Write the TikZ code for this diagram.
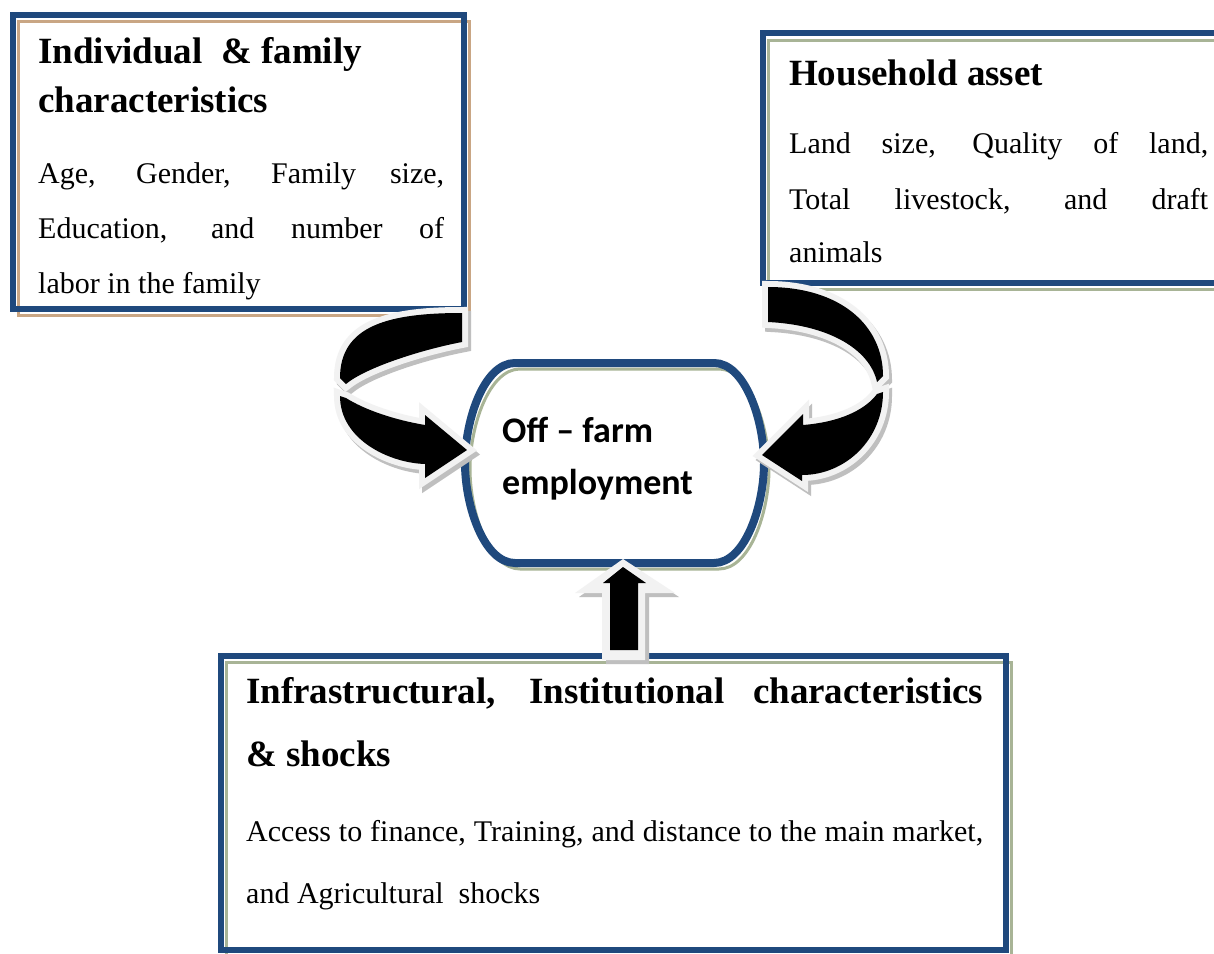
\documentclass[tikz,border=0pt]{standalone}
\usepackage{fontspec}
\setmainfont{Liberation Serif}
\newfontfamily\calibrifont{Carlito}
\definecolor{wordblue}{HTML}{1F497D}
\definecolor{tanline}{RGB}{201,166,132}
\definecolor{sageline}{RGB}{168,180,150}
\definecolor{arrowwhite}{HTML}{F2F2F2}
\definecolor{arrowshadow}{HTML}{BFBFBF}
\tikzset{
  headtxt/.style={font=\fontsize{37}{37}\selectfont\bfseries, anchor=base west, inner sep=0pt},
  bodytxt/.style={font=\fontsize{30}{30}\selectfont, anchor=base west, inner sep=0pt},
  ctrtxt/.style={font=\calibrifont\bfseries\fontsize{36}{36}\selectfont, anchor=base west, inner sep=0pt},
  blueframe/.style={draw=wordblue, line width=6pt},
  tanframe/.style={draw=tanline, line width=3pt},
  sageframe/.style={draw=sageline, line width=3pt},
  arrowshade/.style={draw=arrowshadow, fill=arrowshadow, line width=12pt, line join=miter, miter limit=10},
  arrowedge/.style={draw=arrowwhite, fill=arrowwhite, line width=12pt, line join=miter, miter limit=10},
}
\newcommand\drawband[1]{%
  \path[arrowshade, shift={(3,4)}] #1;
  \path[arrowedge] #1;
  \fill[black] #1;}
\begin{document}
\begin{tikzpicture}[x=1pt,y=-1pt]
\useasboundingbox[fill=white] (0,0) rectangle (1214,953);

% ---- Box 1
\fill[white] (13,15) rectangle (464,309);
\draw[tanframe] (18,21) rectangle (469,315);
\draw[blueframe] (13,15) rectangle (464,309);

% ---- Box 2
\fill[white] (763,33) rectangle (1230,283);
\draw[sageframe] (768,40) rectangle (1235,289);
\draw[blueframe] (763,33) rectangle (1230,283);

% ---- Box 3
\fill[white] (221,656) rectangle (1006,950);
\draw[sageframe] (226,662) rectangle (1011,956);
\draw[blueframe] (221,656) rectangle (1006,950);

% ---- Centre shape
\fill[white] (515,363) -- (714,363) .. controls (745,363) and (764,420) .. (764,463)
  .. controls (764,506) and (745,563) .. (714,563) -- (515,563)
  .. controls (484,563) and (465,506) .. (465,463)
  .. controls (465,420) and (484,363) .. (515,363) -- cycle;
\draw[sageframe] (520,369) -- (719,369) .. controls (750,369) and (769,426) .. (769,469)
  .. controls (769,512) and (750,569) .. (719,569) -- (520,569)
  .. controls (489,569) and (470,512) .. (470,469)
  .. controls (470,426) and (489,369) .. (520,369) -- cycle;
\draw[draw=wordblue, line width=8pt] (515,363) -- (714,363) .. controls (745,363) and (764,420) .. (764,463)
  .. controls (764,506) and (745,563) .. (714,563) -- (515,563)
  .. controls (484,563) and (465,506) .. (465,463)
  .. controls (465,420) and (484,363) .. (515,363) -- cycle;

% ---- Left curved arrow (back band, then front band with head)
\drawband{(462,313) .. controls (390,313) and (340,325) .. (340,378) -- (346,384)
  .. controls (365,368) and (420,350) .. (462,342) -- cycle}
\drawband{(340,396) .. controls (340,440) and (390,463) .. (425,464) -- (425,478) -- (467,450)
  -- (425,415) -- (425,425) .. controls (395,420) and (365,410) .. (346,398) -- cycle}

% ---- Right curved arrow
\drawband{(768,287) .. controls (840,287) and (883,325) .. (883,376) -- (877,382)
  .. controls (870,350) and (830,325) .. (768,322) -- cycle}
\drawband{(883,392) .. controls (883,440) and (845,475) .. (802,475) -- (802,481) -- (762,455)
  -- (803,414) -- (803,425) .. controls (840,422) and (865,410) .. (877,394) -- cycle}

% ---- Bottom up arrow
\fill[arrowshadow] (606,664) -- (606,597) -- (579,597) -- (627,563) -- (679,597) -- (649,597) -- (649,664) -- cycle;
\fill[arrowwhite] (602,660) -- (602,593) -- (575,593) -- (623,559) -- (675,593) -- (645,593) -- (645,660) -- cycle;
\fill[black] (610,650) -- (610,583) -- (603,583) -- (623,567) -- (646,583) -- (638,583) -- (638,650) -- cycle;

% ---- Texts
\node[headtxt] (h1a) at (38,63) {Individual \ \& family};
\node[headtxt] (h1b) at (38,112) {characteristics};
\node[bodytxt] (b1a) at (38,183) {\makebox[406pt][s]{Age, Gender, Family size,}};
\node[bodytxt] (b1b) at (38,238) {\makebox[406pt][s]{Education, and number of}};
\node[bodytxt] (b1c) at (38,293) {labor in the family};

\node[headtxt] (h2) at (789,85) {Household asset};
\node[bodytxt] (b2a) at (789,153) {\makebox[419pt][s]{Land size, Quality of land,}};
\node[bodytxt] (b2b) at (789,209) {\makebox[419pt][s]{Total livestock, and draft}};
\node[bodytxt] (b2c) at (789,262) {animals};

\node[headtxt] (h3a) at (246,703) {\makebox[737pt][s]{Infrastructural, Institutional characteristics}};
\node[headtxt] (h3b) at (246,766) {\& shocks};
\node[bodytxt] (b3a) at (246,841) {\makebox[737pt][s]{Access to finance, Training, and distance to the main market,}};
\node[bodytxt] (b3b) at (246,903) {and Agricultural \ shocks};

\node[ctrtxt] (c1) at (502,442) {Off – farm};
\node[ctrtxt] (c2) at (502,494) {employment};
\end{tikzpicture}
\end{document}
